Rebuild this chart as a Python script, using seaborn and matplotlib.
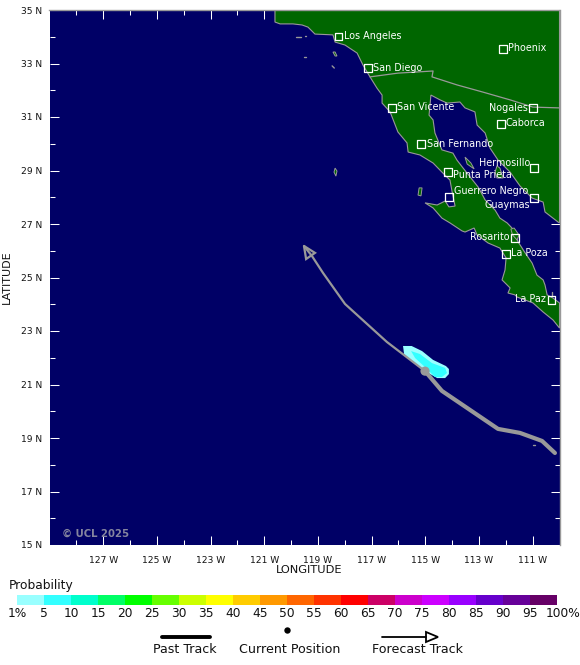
import matplotlib
matplotlib.use("Agg")
import matplotlib.pyplot as plt
from matplotlib.colors import ListedColormap
from matplotlib.transforms import ScaledTranslation
import numpy as np
import seaborn as sns

# ---------- data ----------
mainland_lon = [-120.60,-120.60,-120.41,-119.93,-119.59,-119.37,-119.11,-118.44,-118.36,-117.99,-117.54,-117.32,-117.06,-116.80,-116.61,-116.61,-116.31,-116.02,-115.68,-115.64,-115.20,-114.71,-114.38,-114.08,-114.00,-113.89,-114.12,-114.26,-114.56,-115.01,-114.71,-114.38,-114.08,-113.63,-113.52,-113.18,-113.07,-112.66,-112.22,-111.99,-112.03,-112.14,-111.84,-111.92,-111.66,-111.58,-110.99,-110.61,-110.24,-110.00,-110.00,-110.24,-110.46,-110.54,-110.61,-110.84,-111.02,-111.28,-111.54,-111.77,-111.95,-112.22,-112.40,-112.77,-113.03,-113.33,-113.59,-113.82,-113.97,-114.38,-114.64,-114.71,-114.86,-114.79,-114.45,-114.19,-113.71,-113.52,-113.15,-113.07,-112.77,-112.59,-112.29,-111.84,-111.47,-111.02,-110.61,-110.54,-110.05,-110.00,-110.00]
mainland_lat = [35.00,34.55,34.48,34.48,34.44,34.36,34.10,34.07,33.80,33.69,33.39,32.94,32.50,32.08,31.82,31.52,31.19,30.44,30.03,29.69,29.58,29.28,28.94,28.64,28.20,27.67,27.64,27.86,27.71,27.79,27.60,27.22,27.04,26.74,26.70,26.85,26.59,26.29,26.10,25.73,25.28,24.91,24.61,24.42,24.35,24.27,24.05,23.71,23.41,23.11,24.05,24.23,24.35,24.72,24.91,25.09,25.54,25.92,26.33,26.85,27.04,27.22,27.52,27.90,28.38,28.76,29.09,29.39,29.65,29.77,30.40,30.89,31.07,31.82,31.64,31.52,31.56,31.34,31.19,30.70,30.40,29.84,29.39,28.94,28.42,27.97,27.82,27.45,27.07,27.04,35.00]
island_lons = [[-113.52,-113.30,-113.18,-113.44],[-112.40,-112.33,-112.22,-112.10,-112.33],[-115.23,-115.12,-115.16,-115.27],[-118.36,-118.29,-118.33,-118.40],[-118.44,-118.36,-118.29,-118.36],[-111.81,-111.69,-111.51,-111.58,-111.75]]
island_lats = [[29.50,29.28,29.06,29.24],[28.94,29.17,29.09,28.72,28.72],[28.35,28.35,28.05,28.08],[29.09,28.98,28.79,28.94],[33.43,33.43,33.28,33.28],[26.81,26.85,26.59,26.40,26.59]]
islet_lons = [[-119.82,-119.63],[-119.52,-119.44],[-118.47,-118.39],[-119.47,-119.43],[-110.97,-110.93],[-110.28,-110.28]]
islet_lats = [[34.00,34.00],[33.24,33.24],[32.91,32.83],[34.01,34.01],[18.74,18.74],[24.46,24.35]]
border_lon = [-117.06,-116.02,-114.71,-114.75,-113.82,-112.85,-111.84,-110.99,-110.00]
border_lat = [32.50,32.64,32.72,32.50,32.20,31.93,31.64,31.37,31.34]

past_lon = [-110.17,-110.65,-111.47,-112.29,-114.38,-115.01]
past_lat = [18.44,18.89,19.19,19.34,20.76,21.50]
forecast_lon = [-115.01,-116.43,-117.99,-118.81,-119.22,-119.52]
forecast_lat = [21.50,22.59,24.01,25.17,25.80,26.18]
head_lon = [-119.52,-119.11,-119.44]
head_lat = [26.18,25.92,25.69]
current_lon = [-115.01]
current_lat = [21.50]

prob1_lon = [-115.83,-115.51,-115.12,-114.71,-114.23,-114.12,-114.12,-114.26,-114.56,-115.01,-115.46,-115.79]
prob1_lat = [22.44,22.44,22.25,21.92,21.69,21.58,21.39,21.24,21.24,21.50,21.84,22.14]
prob5_lon = [-115.53,-115.20,-114.75,-114.26,-114.19,-114.38,-114.64,-115.01,-115.38]
prob5_lat = [22.25,22.14,21.80,21.62,21.43,21.28,21.28,21.65,21.99]

city_names = ["Los Angeles","Phoenix","San Diego","San Vicente","Nogales","Caborca","San Fernando","Hermosillo","Punta Prieta","Guerrero Negro","Guaymas","Rosarito","La Poza","La Paz"]
city_lon = [-118.23,-112.10,-117.13,-116.24,-110.99,-112.18,-115.16,-110.95,-114.15,-114.12,-110.95,-111.66,-111.99,-110.31]
city_lat = [34.01,33.54,32.83,31.34,31.34,30.74,29.99,29.09,28.94,28.01,27.97,26.48,25.88,24.16]
# label offset from the marker (px right, px up) and horizontal anchor
city_dx = [5,5,5,5,-5,5,6,-4,5,5,-4,-5,5,-5]
city_dy = [0,1,0,1,0,1,0,5,-3,6,-7,1,1,1]
city_ha = ["left","left","left","left","right","left","left","right","left","left","right","right","left","right"]

prob_levels = ["1%","5","10","15","20","25","30","35","40","45","50","55","60","65","70","75","80","85","90","95","100%"]
prob_colors = ["#99ffff","#33ffff","#00ffcc","#00ff66","#00ff00","#66ff00","#ccff00","#ffff00","#ffcc00","#ff9900",
               "#ff6600","#ff3300","#ff0000","#cc0066","#cc00cc","#cc00ff","#9900ff","#6600cc","#660099","#660066"]

lon_major = [-127,-125,-123,-121,-119,-117,-115,-113,-111]
lat_major = [35,33,31,29,27,25,23,21,19,17,15]

NAVY = "#000066"; LAND = "#006600"; GREY = "#999999"
W, H = 580, 665
px = 72 / 100

sns.set_theme(style="white", rc={"font.family": "DejaVu Sans"})
fig = plt.figure(figsize=(W/100, H/100), dpi=100, facecolor="white")
ax = fig.add_axes([49.5/W, 1-545/H, 510/W, 535/H], facecolor=NAVY)

ax.fill(mainland_lon, mainland_lat, facecolor=LAND, edgecolor=GREY, lw=0.8, zorder=2)
for lo, la in zip(island_lons, island_lats):
    ax.fill(lo, la, facecolor=LAND, edgecolor=GREY, lw=0.7, zorder=2)
for lo, la in zip(islet_lons, islet_lats):
    ax.plot(lo, la, color=GREY, lw=1.0, zorder=2)
ax.plot(border_lon, border_lat, color=GREY, lw=0.9, zorder=3)

ax.fill(prob1_lon, prob1_lat, color=prob_colors[0], lw=0, zorder=4)
ax.fill(prob5_lon, prob5_lat, color=prob_colors[1], lw=0, zorder=5)

sns.lineplot(x=forecast_lon, y=forecast_lat, sort=False, estimator=None, color=GREY, lw=1.6, ax=ax, zorder=6)
ax.fill(head_lon, head_lat, facecolor="none", edgecolor=GREY, lw=1.6, joinstyle="miter", zorder=6)
sns.lineplot(x=past_lon, y=past_lat, sort=False, estimator=None, color=GREY, lw=3.0, ax=ax, zorder=6,
             solid_capstyle="round")
sns.scatterplot(x=current_lon, y=current_lat, s=44, color=GREY, edgecolor="none", ax=ax, zorder=7)

sns.scatterplot(x=city_lon, y=city_lat, marker="s", s=28, facecolor="none", edgecolor="white",
                linewidth=0.9, ax=ax, zorder=8)
for n, lo, la, dx, dy, ha in zip(city_names, city_lon, city_lat, city_dx, city_dy, city_ha):
    ax.annotate(n, (lo, la), xytext=(dx*px, dy*px), textcoords="offset points", ha=ha, va="center",
                color="white", fontsize=6.9, zorder=9)

ax.annotate("\u00a9 UCL 2025", (0.025, 0.0205), xycoords="axes fraction", ha="left", va="center",
            color="#85859f", fontsize=7.3, fontweight="bold", zorder=9)

ax.set_xlim(-129, -110); ax.set_ylim(15, 35)
ax.set_xticks(lon_major)
ax.set_xticklabels([f"{abs(v)} W" for v in lon_major], fontsize=6.6, color="#111111")
ax.set_xticks(np.arange(-128, -110, 2), minor=True)
ax.set_yticks(lat_major)
ax.set_yticklabels([f"{v} N" for v in lat_major], fontsize=6.6, color="#111111")
ax.set_yticks(np.arange(16, 35, 2), minor=True)
ax.tick_params(which="major", direction="in", length=6.5, width=0.75, color="white",
               top=True, bottom=True, left=True, right=True, pad=-0.5)
ax.tick_params(which="minor", direction="in", length=3.6, width=0.75, color="white",
               top=True, bottom=True, left=True, right=True)
ax.tick_params(axis="x", which="major", pad=8)
ax.tick_params(axis="y", which="major", pad=5)
ax.set_xlabel("LONGITUDE", fontsize=8.2, color="#111111")
ax.set_ylabel("LATITUDE", fontsize=8, color="#111111")
ax.xaxis.set_label_coords(259.5/510, -20/535)
ax.yaxis.set_label_coords(-38/510, 0.5)
for s in ("left", "bottom"):
    ax.spines[s].set_visible(False)
for s in ("top", "right"):
    ax.spines[s].set_color(GREY); ax.spines[s].set_linewidth(1.0)

# ---------- probability bar ----------
cax = fig.add_axes([17/W, 1-605/H, 540/W, 10/H])
sns.heatmap(np.arange(len(prob_colors)).reshape(1, -1), cmap=ListedColormap(prob_colors), cbar=False,
            ax=cax, xticklabels=False, yticklabels=False, vmin=-0.5, vmax=len(prob_colors)-0.5)
cax.set_xticks(np.arange(len(prob_levels)))
cax.set_xticklabels(prob_levels, fontsize=8.8, color="#111111", rotation=0)
cax.tick_params(axis="x", length=0, pad=1.5)
last = cax.get_xticklabels()[-1]
last.set_transform(last.get_transform() + ScaledTranslation(6/100, 0, fig.dpi_scale_trans))

# ---------- key ----------
key = fig.add_axes([0, 0, 1, 1], facecolor="none")
key.set_xlim(0, W); key.set_ylim(H, 0); key.axis("off")
key.text(9, 585.5, "Probability", fontsize=8.8, color="#111111", ha="left", va="center")
sns.lineplot(x=[162, 210], y=[637, 637], color="black", lw=2.8, ax=key, solid_capstyle="round")
key.plot([287], [630], "o", color="black", ms=4.6, mew=0)
sns.lineplot(x=[382, 426], y=[637, 637], color="black", lw=1.3, ax=key)
key.fill([426, 438, 426], [632, 637, 642], facecolor="none", edgecolor="black", lw=1.3, joinstyle="miter")
for t, xc in (("Past Track", 185), ("Current Position", 290), ("Forecast Track", 417.5)):
    key.text(xc, 649.5, t, fontsize=9.1, color="#111111", ha="center", va="center")

fig.savefig("out.png", dpi=100)
